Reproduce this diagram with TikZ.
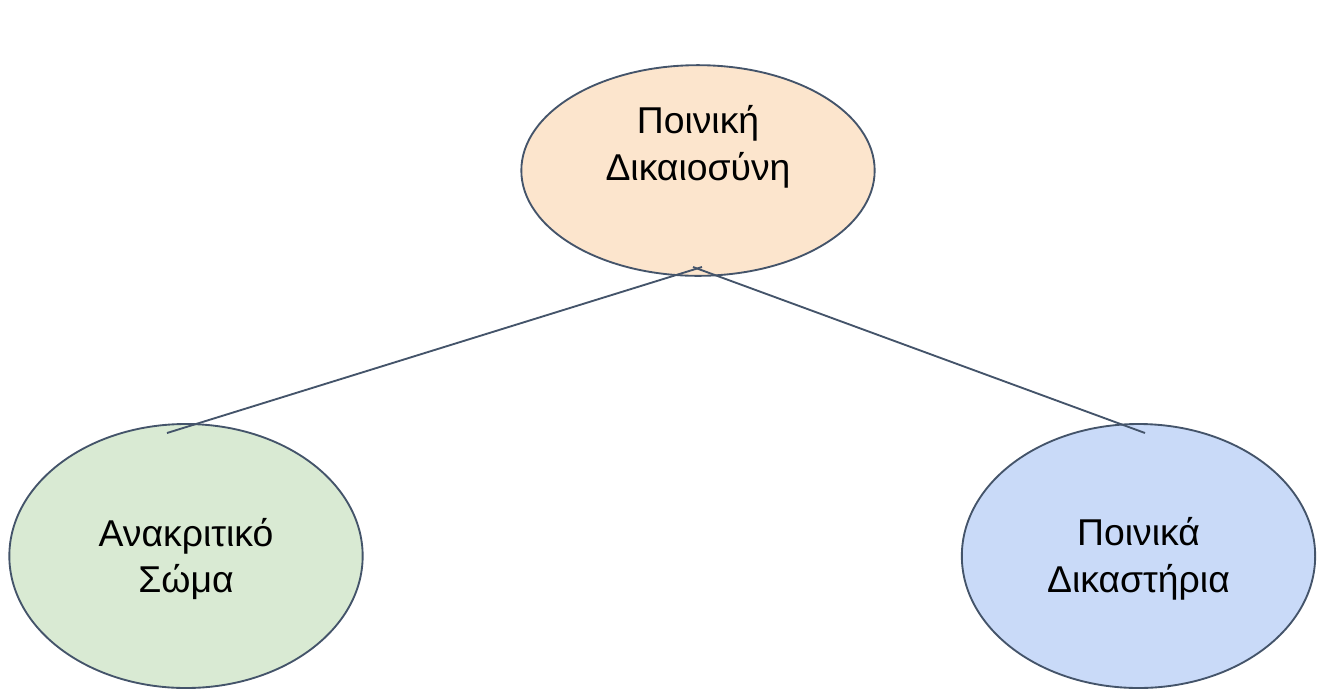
\documentclass[tikz,border=0pt]{standalone}
\usepackage{fontspec}
\setmainfont{Liberation Sans}
\usepackage{xcolor}
\usetikzlibrary{shapes.geometric}
\definecolor{slate}{HTML}{44546A}
\definecolor{peach}{HTML}{FCE5CD}
\definecolor{sage}{HTML}{D9EAD3}
\definecolor{sky}{HTML}{C9DAF8}
\tikzset{
	oval/.style={ellipse, draw=slate, line width=1.4pt, inner sep=0pt, minimum width=265pt},
	lbl/.style={align=center, font=\fontsize{28}{35}\selectfont},
	link/.style={draw=slate, line width=1.4pt}
}
\begin{document}
\begin{tikzpicture}[x=0.75pt, y=-0.75pt]
	\useasboundingbox (0,0) rectangle (1323,690);
	\node[oval, fill=peach, minimum height=158pt] (justice) at (698,170.5) {};
	\node[lbl] (justicetxt) at (698,147) {Ποινική\\Δικαιοσύνη};
	\node[oval, fill=sage, minimum height=198pt] (investig) at (186,556) {};
	\node[lbl] (investigtxt) at (186,559) {Ανακριτικό\\Σώμα};
	\node[oval, fill=sky, minimum height=198pt] (courts) at (1138.5,556) {};
	\node[lbl] (courtstxt) at (1138.5,559) {Ποινικά\\Δικαστήρια};
	% links
	\coordinate (jl) at (702,267);
	\coordinate (jr) at (693,267);
	\coordinate (il) at (167,433);
	\coordinate (cr) at (1145,433);
	\draw[link] (jl) -- (il);
	\draw[link] (jr) -- (cr);
\end{tikzpicture}
\end{document}
